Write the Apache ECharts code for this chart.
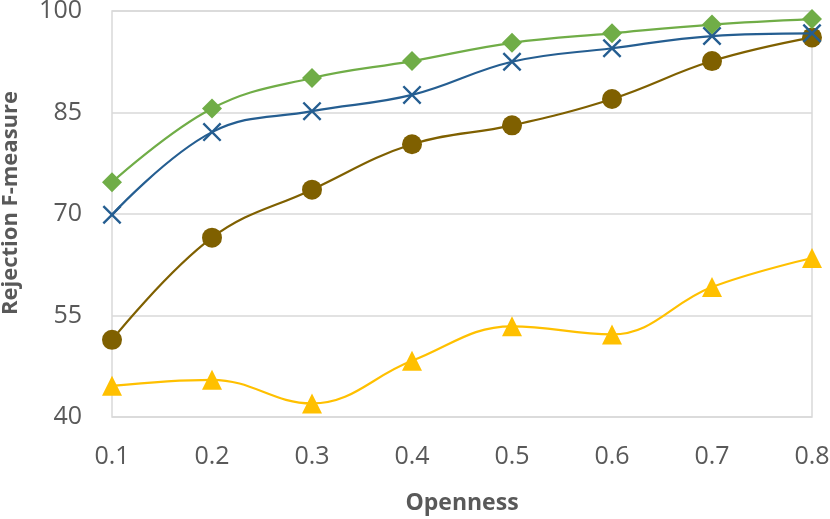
<!DOCTYPE html>
<html>
<head>
<meta charset="utf-8">
<script src="https://cdn.jsdelivr.net/npm/echarts@6/dist/echarts.min.js"></script>
<style>html,body{margin:0;padding:0;background:#fff}#c{width:830px;height:519px}</style>
</head>
<body>
<div id="c"></div>
<script>
const categories = ['0.1','0.2','0.3','0.4','0.5','0.6','0.7','0.8'];
const greenDiamond = [74.7, 85.6, 90.1, 92.6, 95.3, 96.7, 98.0, 98.8];
const blueCross = [69.9, 82.1, 85.2, 87.6, 92.5, 94.5, 96.3, 96.7];
const brownCircle = [51.4, 66.5, 73.6, 80.3, 83.1, 87.0, 92.6, 96.1];
const yellowTriangle = [44.6, 45.5, 42.0, 48.3, 53.4, 52.2, 59.2, 63.5];
const yTicks = [40, 55, 70, 85, 100];

const font = '"Open Sans", "Noto Sans", sans-serif';
const xPath = 'path://M0,1.8 L1.8,0 L10,8.2 L18.2,0 L20,1.8 L11.8,10 L20,18.2 L18.2,20 L10,11.8 L1.8,20 L0,18.2 L8.2,10 Z';

const chart = echarts.init(document.getElementById('c'));
function mk(name, data, color, symbol, size, z) {
  return {
    name, type: 'line', data, smooth: 0.4, z,
    symbol, symbolSize: size, showSymbol: true,
    lineStyle: { color, width: 2.2 },
    itemStyle: { color, borderWidth: 0 },
    emphasis: { disabled: true }
  };
}
chart.setOption({
  animation: false,
  grid: { left: 112, right: 18, top: 11, bottom: 102, show: true, borderColor: '#D9D9D9', borderWidth: 1.5,
          outerBoundsMode: 'none', containLabel: false },
  xAxis: {
    type: 'category', data: categories, boundaryGap: false,
    name: 'Openness', nameLocation: 'middle', nameGap: 75,
    nameTextStyle: { fontFamily: font, fontWeight: 'bold', fontSize: 23, color: '#595959' },
    axisLine: { show: false }, axisTick: { show: false },
    axisLabel: { fontFamily: font, fontSize: 25, color: '#595959', margin: 27 },
    splitLine: { show: false }
  },
  yAxis: {
    type: 'value', min: yTicks[0], max: yTicks[yTicks.length - 1], interval: 15,
    name: 'Rejection F-measure', nameLocation: 'middle', nameGap: 90, nameRotate: 90,
    nameTextStyle: { fontFamily: font, fontWeight: 'bold', fontSize: 22, color: '#595959', padding: [0, 0, 0, 22] },
    axisLine: { show: false }, axisTick: { show: false },
    axisLabel: { fontFamily: font, fontSize: 25, color: '#595959', margin: 30,
      formatter: v => yTicks.includes(v) ? String(v) : '' },
    splitLine: { lineStyle: { color: '#D9D9D9', width: 1.5 } }
  },
  series: [
    mk('Yellow', yellowTriangle, '#FFC000', 'triangle', 20, 2),
    mk('Brown', brownCircle, '#7F6000', 'circle', 20, 3),
    mk('Blue', blueCross, '#255E91', xPath, 19, 4),
    mk('Green', greenDiamond, '#70AD47', 'diamond', 20, 5)
  ]
});
</script>
</body>
</html>
